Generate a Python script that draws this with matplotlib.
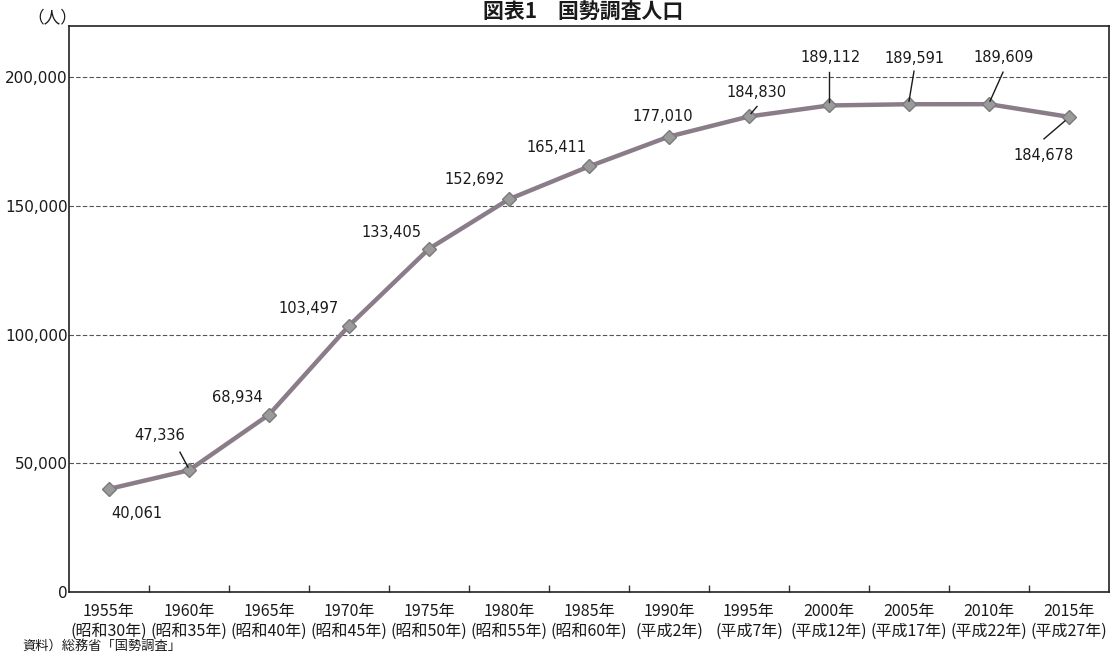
import matplotlib
matplotlib.use("Agg")
import matplotlib.pyplot as plt
import numpy as np

# 国勢調査人口（各回10月1日現在）
years = ["1955年", "1960年", "1965年", "1970年", "1975年", "1980年", "1985年",
         "1990年", "1995年", "2000年", "2005年", "2010年", "2015年"]
eras = ["(昭和30年)", "(昭和35年)", "(昭和40年)", "(昭和45年)", "(昭和50年)",
        "(昭和55年)", "(昭和60年)", "(平成2年)", "(平成7年)", "(平成12年)",
        "(平成17年)", "(平成22年)", "(平成27年)"]
population = [40061, 47336, 68934, 103497, 133405, 152692, 165411,
              177010, 184830, 189112, 189591, 189609, 184678]

yticks = [0, 50000, 100000, 150000, 200000]

CJK = ["Noto Sans CJK JP", "DejaVu Sans"]
LINE_COLOR = "#8a7c88"

fig = plt.figure(figsize=(11.14, 6.54), dpi=100)
ax = fig.add_axes([69 / 1114, 62 / 654, 1040 / 1114, 566 / 654])

x = np.arange(len(years))
ax.plot(x, population, color=LINE_COLOR, lw=3.2, zorder=3,
        marker="D", ms=7, mfc="#9a9a9a", mec="#7a7a7a", mew=1.0)

ax.set_xlim(-0.5, len(years) - 0.5)
ax.set_ylim(0, 220000)

# axes frame
for s in ax.spines.values():
    s.set_color("#222222")
    s.set_linewidth(1.2)

# y axis: labels and dashed gridlines
ax.set_yticks(yticks)
ax.set_yticklabels([f"{v:,}" for v in yticks], fontsize=11,
                   family="DejaVu Sans", color="#1a1a1a")
ax.tick_params(axis="y", length=0, pad=1)
ax.yaxis.grid(True, linestyle=(0, (4, 2)), color="#555555", lw=0.8)
ax.set_axisbelow(True)

# x axis: two-line category labels with ticks at category boundaries
ax.set_xticks(x)
ax.set_xticklabels([f"{y}\n{e}" for y, e in zip(years, eras)],
                   family=CJK, fontsize=11.5, color="#1a1a1a", linespacing=1.2)
ax.tick_params(axis="x", which="major", length=0, pad=8)
ax.set_xticks(np.arange(0.5, len(years) - 0.5, 1.0), minor=True)
ax.tick_params(axis="x", which="minor", direction="in", length=5,
               width=1.0, color="#333333")

# data labels: offsets in pixels (dx right, dy down) from each marker
label_offsets = [(28, 25), (-29, -35), (-32, -17), (-40, -17), (-38, -16),
                 (-34, -20), (-33, -19), (-6, -20), (8, -24), (2, -48),
                 (6, -46), (15, -47), (-25, 39)]
px2pt = 0.72
for xi, v, (dx, dy) in zip(x, population, label_offsets):
    ax.annotate(f"{v:,}", xy=(xi, v), xytext=(dx * px2pt, -dy * px2pt),
                textcoords="offset points", ha="center", va="center",
                fontsize=10.5, family="DejaVu Sans", color="#1a1a1a", zorder=5)

# leader lines: (index, start offset px, end offset px)
leaders = [(1, (-9, -18), (-1, -3)), (8, (8, -10), (2, -3)),
           (9, (0, -33), (0, -3)), (10, (5, -33), (0, -3)),
           (11, (14, -32), (1, -3)), (12, (-25, 22), (-4, 4))]
inv = ax.transData.inverted()
for i, (sx, sy), (ex, ey) in leaders:
    px, py = ax.transData.transform((x[i], population[i]))
    (x0, y0), (x1, y1) = inv.transform([(px + sx, py - sy), (px + ex, py - ey)])
    ax.plot([x0, x1], [y0, y1], color="#1a1a1a", lw=1.0, zorder=4)

# unit, title and source
fig.text(52 / 1114, 1 - 18 / 654, "（人）", ha="center", va="center",
         fontsize=12, family=CJK, color="#1a1a1a")
fig.text(583 / 1114, 1 - 1 / 654, "図表1　国勢調査人口", ha="center", va="top",
         fontsize=15, weight="bold", family=CJK, color="#1a1a1a")
fig.text(22 / 1114, 4 / 654, "資料）総務省「国勢調査」", ha="left", va="baseline",
         fontsize=9.5, family=CJK, color="#1a1a1a")

fig.savefig("out.png", dpi=100)
